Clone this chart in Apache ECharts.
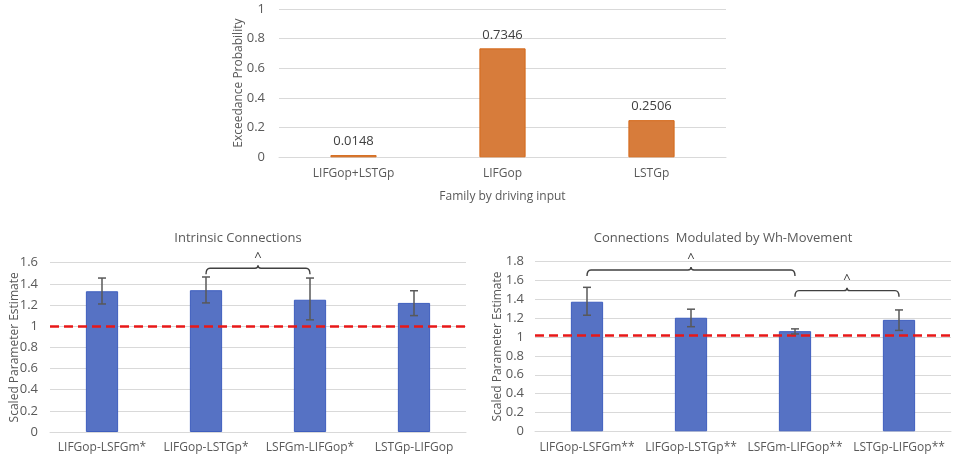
<!DOCTYPE html>
<html>
<head>
<meta charset="utf-8">
<script src="https://cdn.jsdelivr.net/npm/echarts@6/dist/echarts.min.js"></script>
<style>
  html, body { margin: 0; padding: 0; background: #fff; }
  #main { width: 956px; height: 463px; }
</style>
</head>
<body>
<div id="main"></div>
<script>
// top chart: exceedance probability per family
const familyCats = ['LIFGop+LSTGp', 'LIFGop', 'LSTGp'];
const familyProb = [0.0148, 0.7346, 0.2506];

// bottom left: intrinsic connections
const intrCats = ['LIFGop-LSFGm*', 'LIFGop-LSTGp*', 'LSFGm-LIFGop*', 'LSTGp-LIFGop'];
const intrVals = [1.33, 1.34, 1.25, 1.22];
const intrLow = [1.21, 1.22, 1.06, 1.10];
const intrHigh = [1.455, 1.465, 1.455, 1.335];
const intrBrackets = [[1, 2, 1.547]];
const intrRef = 1;

// bottom right: connections modulated by wh-movement
const modCats = ['LIFGop-LSFGm**', 'LIFGop-LSTGp**', 'LSFGm-LIFGop**', 'LSTGp-LIFGop**'];
const modVals = [1.375, 1.205, 1.063, 1.183];
const modLow = [1.232, 1.110, 1.033, 1.071];
const modHigh = [1.528, 1.296, 1.087, 1.288];
const modBrackets = [[0, 2, 1.712], [2, 3, 1.493]];
const modRef = 1.02;

const textColor = '#595959';
const gridColor = '#D9D9D9';
const font = 'Open Sans';

const chart = echarts.init(document.getElementById('main'), null, { renderer: 'canvas' });

function errorSeries(idx, low, high) {
    return {
        type: 'custom',
        xAxisIndex: idx, yAxisIndex: idx,
        silent: true, z: 5,
        data: low.map((l, i) => [i, l, high[i]]),
        encode: { x: 0, y: [1, 2] },
        renderItem: (params, api) => {
            const lo = api.coord([api.value(0), api.value(1)]);
            const hi = api.coord([api.value(0), api.value(2)]);
            const w = 4;
            const st = { stroke: '#595959', lineWidth: 1.5 };
            return {
                type: 'group',
                children: [
                    { type: 'line', shape: { x1: lo[0], y1: lo[1], x2: hi[0], y2: hi[1] }, style: st },
                    { type: 'line', shape: { x1: hi[0] - w, y1: hi[1], x2: hi[0] + w, y2: hi[1] }, style: st },
                    { type: 'line', shape: { x1: lo[0] - w, y1: lo[1], x2: lo[0] + w, y2: lo[1] }, style: st }
                ]
            };
        }
    };
}

function bracketSeries(idx, brackets) {
    return {
        type: 'custom',
        xAxisIndex: idx, yAxisIndex: idx,
        silent: true, z: 6,
        data: brackets,
        encode: { x: [0, 1], y: 2 },
        renderItem: (params, api) => {
            const a = api.coord([api.value(0), api.value(2)]);
            const b = api.coord([api.value(1), api.value(2)]);
            const y = a[1], x1 = a[0], x2 = b[0], xm = (x1 + x2) / 2;
            const path = `M${x1} ${y + 6} Q${x1} ${y} ${x1 + 4} ${y} L${xm - 3} ${y} Q${xm} ${y} ${xm} ${y - 3} Q${xm} ${y} ${xm + 3} ${y} L${x2 - 4} ${y} Q${x2} ${y} ${x2} ${y + 6}`;
            return {
                type: 'group',
                children: [
                    { type: 'path', shape: { pathData: path }, style: { fill: null, stroke: '#404040', lineWidth: 1.4 } },
                    { type: 'text', x: xm, y: y - 5, style: { text: '^', fill: '#404040', font: '13px ' + font, align: 'center', verticalAlign: 'bottom' } }
                ]
            };
        }
    };
}

function refLine(val) {
    return {
        silent: true,
        symbol: 'none',
        label: { show: false },
        lineStyle: { color: '#E81818', width: 2.5, type: [9, 5] },
        data: [{ yAxis: val }]
    };
}

const catAxis = (idx, data) => ({
    type: 'category', gridIndex: idx, data: data,
    axisLine: { lineStyle: { color: gridColor } },
    axisTick: { show: false },
    axisLabel: { color: textColor, fontFamily: font, fontSize: 12, margin: 10, interval: 0 }
});

const valAxis = (idx, max, margin, gap) => ({
    type: 'value', gridIndex: idx, min: 0, max: max, interval: 0.2,
    name: idx === 0 ? 'Exceedance Probability' : 'Scaled Parameter Estimate',
    nameLocation: 'middle', nameGap: gap, nameMoveOverlap: false,
    nameTextStyle: { color: textColor, fontFamily: font, fontSize: 12 },
    axisLine: { show: false }, axisTick: { show: false },
    splitLine: { lineStyle: { color: gridColor } },
    axisLabel: { color: textColor, fontFamily: font, fontSize: 13, margin: margin,
        formatter: v => String(Math.round(v * 10) / 10) }
});

const blueBar = { color: '#5672C4', borderColor: '#3E5EBE', borderWidth: 1 };

chart.setOption({
    animation: false,
    backgroundColor: '#fff',
    title: [
        { text: 'Intrinsic Connections', left: 233, top: 227, textAlign: 'center',
          textStyle: { color: textColor, fontFamily: font, fontSize: 13, fontWeight: 'normal' } },
        { text: 'Connections  Modulated by Wh-Movement', left: 718, top: 227, textAlign: 'center',
          textStyle: { color: textColor, fontFamily: font, fontSize: 13, fontWeight: 'normal' } }
    ],
    grid: [
        { left: 279, width: 447, top: 9, height: 148.3, outerBoundsMode: 'none' },
        { left: 50, width: 416, top: 262.7, height: 169.3, outerBoundsMode: 'none' },
        { left: 535, width: 416, top: 261.7, height: 169.6, outerBoundsMode: 'none' }
    ],
    xAxis: [
        Object.assign(catAxis(0, familyCats), {
            name: 'Family by driving input', nameLocation: 'middle', nameGap: 33,
            nameTextStyle: { color: textColor, fontFamily: font, fontSize: 12 }
        }),
        catAxis(1, intrCats),
        catAxis(2, modCats)
    ],
    yAxis: [
        valAxis(0, 1, 14, 34),
        valAxis(1, 1.6, 12, 29),
        valAxis(2, 1.8, 11, 31)
    ],
    series: [
        {
            type: 'bar', xAxisIndex: 0, yAxisIndex: 0, data: familyProb, barWidth: '31%',
            itemStyle: { color: '#D77C3B', borderColor: '#D4691A', borderWidth: 1 },
            label: { show: true, position: 'top', distance: 7, color: '#404040', fontFamily: font, fontSize: 13,
                formatter: p => p.value.toFixed(4) }
        },
        {
            type: 'bar', xAxisIndex: 1, yAxisIndex: 1, data: intrVals, barWidth: '31%',
            itemStyle: blueBar, markLine: refLine(intrRef)
        },
        errorSeries(1, intrLow, intrHigh),
        bracketSeries(1, intrBrackets),
        {
            type: 'bar', xAxisIndex: 2, yAxisIndex: 2, data: modVals, barWidth: '31%',
            itemStyle: blueBar, markLine: refLine(modRef)
        },
        errorSeries(2, modLow, modHigh),
        bracketSeries(2, modBrackets)
    ]
});
</script>
</body>
</html>
